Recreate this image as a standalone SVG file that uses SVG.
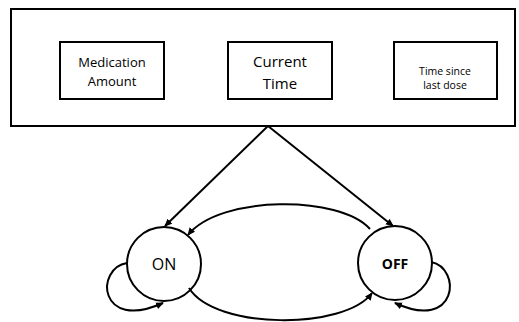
<svg xmlns="http://www.w3.org/2000/svg" width="519" height="322" viewBox="0 0 519 322">
<style>
.box{fill:#fff;stroke:#000;stroke-width:2}
.st{fill:#fff;stroke:#000;stroke-width:2}
.ln{fill:none;stroke:#000;stroke-width:2}
text{font-family:"Open Sans","Liberation Sans",sans-serif;fill:#000;text-anchor:middle}
</style>
<defs>
<marker id="ah" markerWidth="8" markerHeight="8" refX="7" refY="4" orient="auto" markerUnits="userSpaceOnUse">
<path d="M0,0.5 L8,4 L0,7.5 Z" fill="#000"/>
</marker>
</defs>
<g id="container"><rect class="box" x="11" y="9" width="504" height="117"/></g>
<g id="medication"><rect class="box" x="60" y="42" width="104" height="57"/>
<text x="112" y="67" font-size="13">Medication</text><text x="112" y="86" font-size="13">Amount</text></g>
<g id="current"><rect class="box" x="228" y="42" width="104" height="57"/>
<text x="280" y="67" font-size="15">Current</text><text x="280" y="89" font-size="15">Time</text></g>
<g id="timesince"><rect class="box" x="394" y="42" width="103" height="57"/>
<text x="445" y="75" font-size="10.5">Time since</text><text x="445" y="89" font-size="10.5">last dose</text></g>
<g id="on"><circle class="st" cx="164" cy="264" r="37"/><text x="164" y="270" font-size="16">ON</text></g>
<g id="off"><circle class="st" cx="395" cy="263" r="37"/><text x="395" y="269" font-size="14" font-weight="bold">OFF</text></g>
<g id="connectors">
<path class="ln" d="M268,126 L165,226" marker-end="url(#ah)"/>
<path class="ln" d="M268,126 L393,226" marker-end="url(#ah)"/>
<path class="ln" d="M370,229 C340,195 220,195 188,235" marker-end="url(#ah)"/>
<path class="ln" d="M189,288 C215,330 345,330 372,293" marker-end="url(#ah)"/>
<path class="ln" d="M127,263 C95,268 98,332 163,303" marker-end="url(#ah)"/>
<path class="ln" d="M431,262 C462,268 458,332 395,303" marker-end="url(#ah)"/>
</g>
</svg>
